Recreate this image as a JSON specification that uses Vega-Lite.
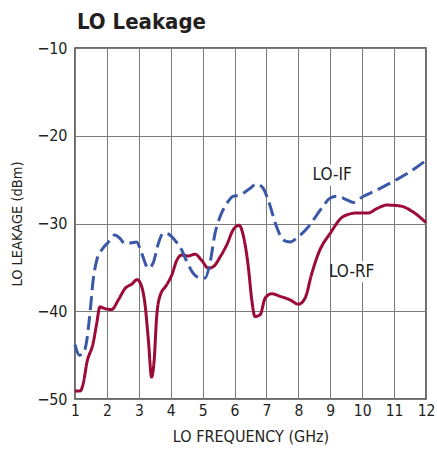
{
  "$schema": "https://vega.github.io/schema/vega-lite/v6.json",
  "width": 351,
  "height": 351,
  "autosize": "none",
  "padding": {"left": 75, "top": 48, "right": 11, "bottom": 59},
  "title": {"text": "LO Leakage", "anchor": "start", "frame": "group", "font": "DejaVu Sans Condensed", "fontSize": 22, "fontWeight": "bold", "color": "#231f20", "offset": 6, "dx": 2},
  "config": {
    "view": {"stroke": "#3a3a3a", "strokeWidth": 1.5},
    "font": "DejaVu Sans Condensed",
    "axis": {"labelFont": "DejaVu Sans Condensed", "titleFont": "DejaVu Sans Condensed", "labelFontSize": 16, "titleFontSize": 16, "titleFontWeight": "normal", "labelColor": "#231f20", "titleColor": "#231f20", "gridColor": "#7a7a7a", "gridOpacity": 1, "gridWidth": 1, "ticks": false, "domain": false, "labelOverlap": false, "labelFlush": false}
  },
  "datasets": {
    "curves": [
      {"f": 1.0, "v": -49.1, "s": "LO-RF"},
      {"f": 1.16, "v": -49.1, "s": "LO-RF"},
      {"f": 1.26, "v": -48.2, "s": "LO-RF"},
      {"f": 1.37, "v": -45.9, "s": "LO-RF"},
      {"f": 1.57, "v": -43.6, "s": "LO-RF"},
      {"f": 1.68, "v": -41.4, "s": "LO-RF"},
      {"f": 1.78, "v": -39.5, "s": "LO-RF"},
      {"f": 1.94, "v": -39.7, "s": "LO-RF"},
      {"f": 2.15, "v": -39.8, "s": "LO-RF"},
      {"f": 2.36, "v": -38.7, "s": "LO-RF"},
      {"f": 2.57, "v": -37.4, "s": "LO-RF"},
      {"f": 2.78, "v": -36.9, "s": "LO-RF"},
      {"f": 2.95, "v": -36.4, "s": "LO-RF"},
      {"f": 3.09, "v": -37.2, "s": "LO-RF"},
      {"f": 3.19, "v": -39.1, "s": "LO-RF"},
      {"f": 3.3, "v": -43.3, "s": "LO-RF"},
      {"f": 3.4, "v": -47.5, "s": "LO-RF"},
      {"f": 3.48, "v": -45.6, "s": "LO-RF"},
      {"f": 3.56, "v": -40.6, "s": "LO-RF"},
      {"f": 3.66, "v": -38.3, "s": "LO-RF"},
      {"f": 3.87, "v": -37.0, "s": "LO-RF"},
      {"f": 4.03, "v": -35.9, "s": "LO-RF"},
      {"f": 4.19, "v": -34.2, "s": "LO-RF"},
      {"f": 4.34, "v": -33.6, "s": "LO-RF"},
      {"f": 4.55, "v": -33.7, "s": "LO-RF"},
      {"f": 4.76, "v": -33.5, "s": "LO-RF"},
      {"f": 4.97, "v": -34.2, "s": "LO-RF"},
      {"f": 5.18, "v": -35.1, "s": "LO-RF"},
      {"f": 5.34, "v": -34.9, "s": "LO-RF"},
      {"f": 5.55, "v": -33.8, "s": "LO-RF"},
      {"f": 5.76, "v": -32.4, "s": "LO-RF"},
      {"f": 5.96, "v": -30.7, "s": "LO-RF"},
      {"f": 6.14, "v": -30.2, "s": "LO-RF"},
      {"f": 6.3, "v": -31.8, "s": "LO-RF"},
      {"f": 6.43, "v": -34.9, "s": "LO-RF"},
      {"f": 6.54, "v": -38.7, "s": "LO-RF"},
      {"f": 6.64, "v": -40.6, "s": "LO-RF"},
      {"f": 6.8, "v": -40.4, "s": "LO-RF"},
      {"f": 6.96, "v": -38.5, "s": "LO-RF"},
      {"f": 7.17, "v": -38.0, "s": "LO-RF"},
      {"f": 7.43, "v": -38.3, "s": "LO-RF"},
      {"f": 7.74, "v": -38.7, "s": "LO-RF"},
      {"f": 8.0, "v": -39.2, "s": "LO-RF"},
      {"f": 8.21, "v": -38.5, "s": "LO-RF"},
      {"f": 8.42, "v": -35.7, "s": "LO-RF"},
      {"f": 8.63, "v": -33.4, "s": "LO-RF"},
      {"f": 9.0, "v": -31.1, "s": "LO-RF"},
      {"f": 9.41, "v": -29.2, "s": "LO-RF"},
      {"f": 9.83, "v": -28.8, "s": "LO-RF"},
      {"f": 10.19, "v": -28.8, "s": "LO-RF"},
      {"f": 10.46, "v": -28.3, "s": "LO-RF"},
      {"f": 10.77, "v": -27.9, "s": "LO-RF"},
      {"f": 11.19, "v": -28.0, "s": "LO-RF"},
      {"f": 11.6, "v": -28.7, "s": "LO-RF"},
      {"f": 12.0, "v": -29.9, "s": "LO-RF"},
      {"f": 1.0, "v": -43.8, "s": "LO-IF"},
      {"f": 1.14, "v": -45.0, "s": "LO-IF"},
      {"f": 1.26, "v": -44.8, "s": "LO-IF"},
      {"f": 1.37, "v": -43.3, "s": "LO-IF"},
      {"f": 1.47, "v": -40.2, "s": "LO-IF"},
      {"f": 1.57, "v": -36.4, "s": "LO-IF"},
      {"f": 1.68, "v": -34.2, "s": "LO-IF"},
      {"f": 1.84, "v": -33.0, "s": "LO-IF"},
      {"f": 2.05, "v": -32.1, "s": "LO-IF"},
      {"f": 2.25, "v": -31.3, "s": "LO-IF"},
      {"f": 2.41, "v": -31.7, "s": "LO-IF"},
      {"f": 2.57, "v": -32.3, "s": "LO-IF"},
      {"f": 2.78, "v": -32.2, "s": "LO-IF"},
      {"f": 2.93, "v": -32.1, "s": "LO-IF"},
      {"f": 3.09, "v": -33.4, "s": "LO-IF"},
      {"f": 3.3, "v": -35.1, "s": "LO-IF"},
      {"f": 3.45, "v": -34.5, "s": "LO-IF"},
      {"f": 3.61, "v": -32.3, "s": "LO-IF"},
      {"f": 3.77, "v": -31.1, "s": "LO-IF"},
      {"f": 3.92, "v": -31.2, "s": "LO-IF"},
      {"f": 4.13, "v": -31.9, "s": "LO-IF"},
      {"f": 4.34, "v": -33.0, "s": "LO-IF"},
      {"f": 4.5, "v": -34.3, "s": "LO-IF"},
      {"f": 4.71, "v": -35.7, "s": "LO-IF"},
      {"f": 4.92, "v": -36.2, "s": "LO-IF"},
      {"f": 5.08, "v": -36.2, "s": "LO-IF"},
      {"f": 5.23, "v": -34.5, "s": "LO-IF"},
      {"f": 5.39, "v": -31.1, "s": "LO-IF"},
      {"f": 5.55, "v": -29.2, "s": "LO-IF"},
      {"f": 5.76, "v": -27.7, "s": "LO-IF"},
      {"f": 5.95, "v": -26.9, "s": "LO-IF"},
      {"f": 6.17, "v": -26.75, "s": "LO-IF"},
      {"f": 6.45, "v": -26.1, "s": "LO-IF"},
      {"f": 6.7, "v": -25.5, "s": "LO-IF"},
      {"f": 6.9, "v": -26.0, "s": "LO-IF"},
      {"f": 7.06, "v": -27.4, "s": "LO-IF"},
      {"f": 7.32, "v": -30.4, "s": "LO-IF"},
      {"f": 7.53, "v": -31.9, "s": "LO-IF"},
      {"f": 7.74, "v": -32.1, "s": "LO-IF"},
      {"f": 8.0, "v": -31.5, "s": "LO-IF"},
      {"f": 8.31, "v": -30.4, "s": "LO-IF"},
      {"f": 8.68, "v": -28.5, "s": "LO-IF"},
      {"f": 9.0, "v": -27.1, "s": "LO-IF"},
      {"f": 9.2, "v": -26.9, "s": "LO-IF"},
      {"f": 9.52, "v": -27.3, "s": "LO-IF"},
      {"f": 9.72, "v": -27.6, "s": "LO-IF"},
      {"f": 10.04, "v": -26.9, "s": "LO-IF"},
      {"f": 10.46, "v": -26.2, "s": "LO-IF"},
      {"f": 10.77, "v": -25.6, "s": "LO-IF"},
      {"f": 11.08, "v": -25.0, "s": "LO-IF"},
      {"f": 11.5, "v": -24.1, "s": "LO-IF"},
      {"f": 12.0, "v": -22.8, "s": "LO-IF"}
    ],
    "labels": [
      {"f": 9.06, "v": -24.5, "f1": 8.62, "f2": 9.5, "v1": -23.3, "v2": -25.7, "t": "LO-IF"},
      {"f": 9.67, "v": -35.5, "f1": 9.1, "f2": 10.24, "v1": -34.3, "v2": -36.7, "t": "LO-RF"}
    ]
  },
  "layer": [
    {
      "data": {"name": "curves"},
      "mark": {"type": "line", "interpolate": "monotone", "strokeWidth": 3},
      "encoding": {
        "x": {"field": "f", "type": "quantitative", "scale": {"domain": [1, 12], "nice": false}, "axis": {"values": [1,2,3,4,5,6,7,8,9,10,11,12], "tickCount": 12, "labelOverlap": false, "labelFlush": false, "labelFontSize": 15.5, "title": "LO FREQUENCY (GHz)", "labelPadding": 4, "titlePadding": 10, "grid": true}},
        "y": {"field": "v", "type": "quantitative", "scale": {"domain": [-50, -10], "nice": false}, "axis": {"values": [-50,-40,-30,-20,-10], "title": "LO LEAKAGE (dBm)", "titleFontSize": 14.5, "labelPadding": 8, "titlePadding": 12, "grid": true, "labelExpr": "replace(datum.label, '-', '−')"}},
        "color": {"field": "s", "type": "nominal", "scale": {"domain": ["LO-IF", "LO-RF"], "range": ["#3b58a8", "#9b0b37"]}, "legend": null},
        "strokeDash": {"field": "s", "type": "nominal", "scale": {"domain": ["LO-IF", "LO-RF"], "range": [[14, 6], [1, 0]]}, "legend": null}
      }
    },
    {
      "data": {"name": "labels"},
      "mark": {"type": "rect", "fill": "white"},
      "encoding": {
        "x": {"field": "f1", "type": "quantitative"},
        "x2": {"field": "f2"},
        "y": {"field": "v1", "type": "quantitative"},
        "y2": {"field": "v2"}
      }
    },
    {
      "data": {"name": "labels"},
      "mark": {"type": "text", "fontSize": 17, "color": "#231f20", "font": "DejaVu Sans Condensed"},
      "encoding": {
        "x": {"field": "f", "type": "quantitative"},
        "y": {"field": "v", "type": "quantitative"},
        "text": {"field": "t"}
      }
    }
  ]
}
